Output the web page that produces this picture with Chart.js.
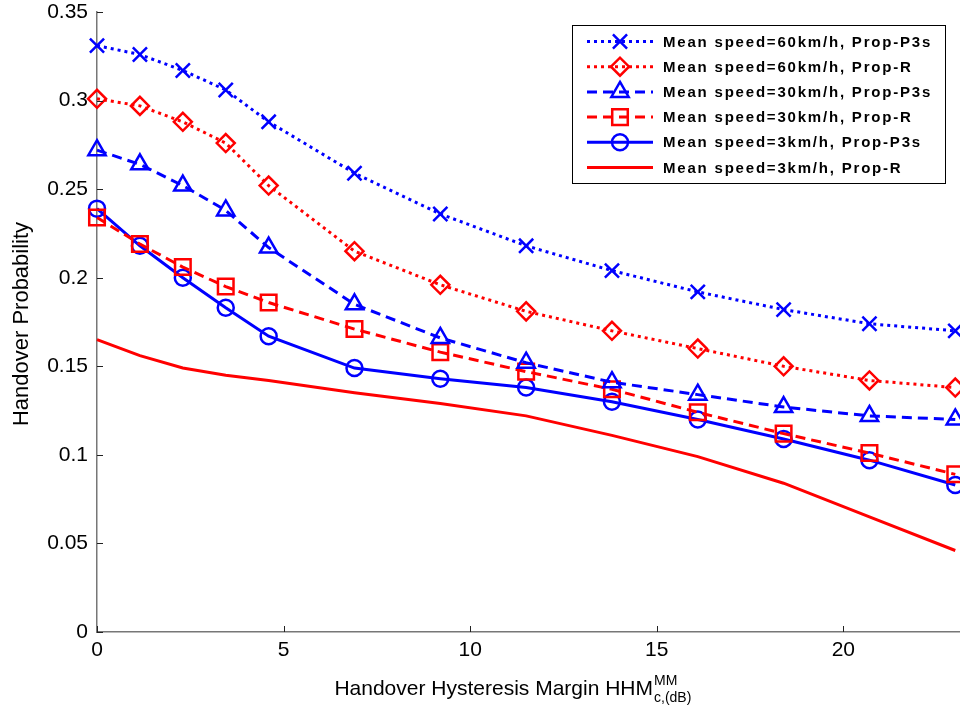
<!DOCTYPE html>
<html>
<head>
<meta charset="utf-8">
<title>Handover Probability</title>
<script src="https://cdn.jsdelivr.net/npm/chart.js@4.4.1/dist/chart.umd.min.js"></script>
<style>
  html, body { margin: 0; padding: 0; background: #fff; }
</style>
</head>
<body>
<canvas id="hoChart" width="960" height="711"></canvas>
<script>
// hysteresis margin (dB) sample points
const margins = [0, 1.15, 2.3, 3.45, 4.6, 6.9, 9.2, 11.5, 13.8, 16.1, 18.4, 20.7, 23];

// handover probability per scheme
const p3s60 = [0.331, 0.326, 0.317, 0.306, 0.288, 0.259, 0.236, 0.218, 0.204, 0.192, 0.182, 0.174, 0.170];
const propR60 = [0.301, 0.297, 0.288, 0.276, 0.252, 0.215, 0.196, 0.181, 0.170, 0.160, 0.150, 0.142, 0.138];
const p3s30 = [0.272, 0.264, 0.252, 0.238, 0.217, 0.185, 0.166, 0.152, 0.141, 0.134, 0.127, 0.122, 0.120];
const propR30 = [0.234, 0.219, 0.206, 0.195, 0.186, 0.171, 0.158, 0.147, 0.137, 0.124, 0.112, 0.101, 0.089];
const p3s3 = [0.239, 0.218, 0.200, 0.183, 0.167, 0.149, 0.143, 0.138, 0.130, 0.120, 0.109, 0.097, 0.083];
const propR3 = [0.165, 0.156, 0.149, 0.145, 0.142, 0.135, 0.129, 0.122, 0.111, 0.099, 0.084, 0.065, 0.046];

const xTicks = [0, 5, 10, 15, 20];
const yTicks = [0, 0.05, 0.1, 0.15, 0.2, 0.25, 0.3, 0.35];

const BLUE = '#0000ff';
const RED = '#ff0000';
const DOT = [3, 4];
const DASH = [10, 6];

const series = [
  { label: 'Mean speed=60km/h, Prop-P3s', values: p3s60, color: BLUE, dash: DOT, style: 'crossRot', r: 10 },
  { label: 'Mean speed=60km/h, Prop-R', values: propR60, color: RED, dash: DOT, style: 'rectRot', r: 9 },
  { label: 'Mean speed=30km/h, Prop-P3s', values: p3s30, color: BLUE, dash: DASH, style: 'triangle', r: 10 },
  { label: 'Mean speed=30km/h, Prop-R', values: propR30, color: RED, dash: DASH, style: 'rect', r: 11 },
  { label: 'Mean speed=3km/h, Prop-P3s', values: p3s3, color: BLUE, dash: [], style: 'circle', r: 8 },
  { label: 'Mean speed=3km/h, Prop-R', values: propR3, color: RED, dash: [], style: false, r: 0 }
];

Chart.defaults.font.family = '"Liberation Sans", Arial, sans-serif';
Chart.defaults.color = '#000';

// inward tick marks, axis titles and the boxed legend
const figureDecor = {
  id: 'figureDecor',
  afterDraw(chart) {
    const ctx = chart.ctx;
    const xs = chart.scales.x, ys = chart.scales.y;
    const area = chart.chartArea;

    ctx.save();
    ctx.strokeStyle = '#222';
    ctx.lineWidth = 1;
    ctx.beginPath();
    yTicks.forEach(v => {
      const py = Math.round(ys.getPixelForValue(v)) + 0.5;
      ctx.moveTo(area.left, py);
      ctx.lineTo(area.left + 6, py);
    });
    xTicks.forEach(v => {
      const px = Math.round(xs.getPixelForValue(v)) + 0.5;
      ctx.moveTo(px, area.bottom);
      ctx.lineTo(px, area.bottom - 6);
    });
    ctx.stroke();

    // y title
    ctx.fillStyle = '#000';
    ctx.font = '22px "Liberation Sans", Arial, sans-serif';
    ctx.textAlign = 'center';
    ctx.textBaseline = 'alphabetic';
    ctx.save();
    ctx.translate(28, 324);
    ctx.rotate(-Math.PI / 2);
    ctx.fillText('Handover Probability', 0, 0);
    ctx.restore();

    // x title with super/subscript
    const main = 'Handover Hysteresis Margin HHM';
    ctx.font = '21px "Liberation Sans", Arial, sans-serif';
    ctx.textAlign = 'left';
    const mainW = ctx.measureText(main).width;
    const x0 = 653 - mainW;
    ctx.fillText(main, x0, 695);
    ctx.font = '14px "Liberation Sans", Arial, sans-serif';
    ctx.fillText('MM', x0 + mainW + 1, 685);
    ctx.fillText('c,(dB)', x0 + mainW + 1, 702);

    // legend
    const box = { l: 572.5, t: 25.5, r: 945.5, b: 183.5 };
    ctx.fillStyle = '#fff';
    ctx.fillRect(box.l, box.t, box.r - box.l, box.b - box.t);
    ctx.strokeStyle = '#000';
    ctx.lineWidth = 1;
    ctx.strokeRect(box.l, box.t, box.r - box.l, box.b - box.t);

    ctx.font = 'bold 15px "Liberation Sans", Arial, sans-serif';
    ctx.textBaseline = 'middle';
    if ('letterSpacing' in ctx) ctx.letterSpacing = '1.8px';
    series.forEach((s, i) => {
      const y = 41.5 + i * 25.2;
      ctx.strokeStyle = s.color;
      ctx.lineWidth = 3;
      ctx.lineCap = 'butt';
      ctx.setLineDash(s.dash);
      ctx.beginPath();
      ctx.moveTo(587, y);
      ctx.lineTo(653, y);
      ctx.stroke();
      ctx.setLineDash([]);
      if (s.style) {
        ctx.lineWidth = 2.5;
        ctx.fillStyle = 'rgba(0,0,0,0)';
        Chart.helpers.drawPoint(ctx, { pointStyle: s.style, radius: s.r, rotation: 0, borderWidth: 2.5 }, 620, y);
      }
      ctx.fillStyle = '#000';
      ctx.fillText(s.label, 663, y + 1);
    });
    ctx.restore();
  }
};

new Chart(document.getElementById('hoChart'), {
  type: 'line',
  data: {
    datasets: series.map(s => ({
      label: s.label,
      data: margins.map((m, i) => ({ x: m, y: s.values[i] })),
      borderColor: s.color,
      borderWidth: 3,
      borderDash: s.dash,
      borderCapStyle: 'butt',
      tension: 0,
      pointStyle: s.style,
      pointRadius: s.r,
      pointBorderWidth: 2.5,
      pointBorderColor: s.color,
      pointBackgroundColor: 'rgba(0,0,0,0)',
      clip: false
    }))
  },
  options: {
    responsive: false,
    animation: false,
    devicePixelRatio: 1,
    layout: { autoPadding: false, padding: { top: 12, right: 1, left: 0, bottom: 0 } },
    plugins: {
      legend: { display: false },
      tooltip: { enabled: false }
    },
    scales: {
      x: {
        type: 'linear',
        min: 0,
        max: 23.1,
        afterBuildTicks: s => { s.ticks = xTicks.map(v => ({ value: v })); },
        afterFit: s => {
          s.height = 79;
          s.paddingLeft = 0;
          s.paddingRight = 0;
        },
        grid: { display: false, drawTicks: false, tickLength: 0 },
        border: { display: true, color: '#777', width: 1.5 },
        ticks: { font: { size: 21 }, color: '#000', padding: 6, maxRotation: 0 }
      },
      y: {
        type: 'linear',
        min: 0,
        max: 0.35,
        afterBuildTicks: s => { s.ticks = yTicks.map(v => ({ value: v })); },
        afterFit: s => {
          s.width = 97;
          s.paddingTop = 0;
          s.paddingBottom = 0;
        },
        grid: { display: false, drawTicks: false, tickLength: 0 },
        border: { display: true, color: '#777', width: 1.5 },
        ticks: {
          font: { size: 21 },
          color: '#000',
          padding: 9,
          callback: v => String(+v.toFixed(2))
        }
      }
    }
  },
  plugins: [figureDecor]
});
</script>
</body>
</html>
